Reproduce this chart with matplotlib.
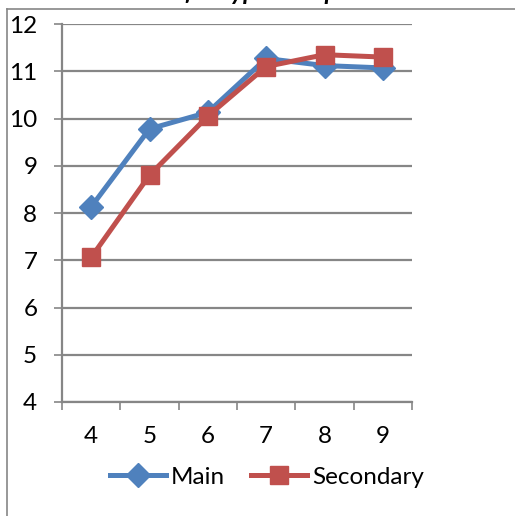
import matplotlib
matplotlib.use('Agg')
import matplotlib.pyplot as plt
from matplotlib.lines import Line2D

grades = ["4", "5", "6", "7", "8", "9"]
main_vals = [8.13, 9.78, 10.13, 11.27, 11.12, 11.07]
secondary_vals = [7.06, 8.80, 10.05, 11.10, 11.35, 11.30]

blue = "#4F81BD"
red = "#C0504D"
grid_col = "#868686"

plt.rcParams['font.family'] = ['Lato', 'DejaVu Sans']

fig = plt.figure(figsize=(5.15, 5.16), dpi=100)

# chart frame, cut off at the top and right
fig.add_artist(Line2D([6.5 / 515, 6.5 / 515], [0, 1 - 8.5 / 516], color=grid_col, lw=1.2))
fig.add_artist(Line2D([6.5 / 515, 1], [1 - 8.5 / 516, 1 - 8.5 / 516], color=grid_col, lw=1.2))
fig.text(0.49, 1 + 0.5 / 516, "Growth of a Typical Sophomore", ha='center', va='baseline',
         fontsize=18, fontweight='bold', fontstyle='italic', color='black')

ax = fig.add_axes([62 / 515, 114 / 516, 350 / 515, 378 / 516])
x = list(range(len(grades)))
ax.plot(x, main_vals, color=blue, lw=3.6, marker='D', ms=12.5, label="Main")
ax.plot(x, secondary_vals, color=red, lw=3.6, marker='s', ms=13.5, label="Secondary")

ax.set_xlim(-0.5, len(grades) - 0.5)
ax.set_ylim(4, 12)
ax.set_yticks(range(4, 13))
ax.set_xticks(x)
ax.set_xticklabels(grades)
ax.set_xticks([i - 0.5 for i in range(len(grades) + 1)], minor=True)

ax.yaxis.grid(True, color=grid_col, lw=1.6)
ax.set_axisbelow(True)
for side in ['top', 'right']:
    ax.spines[side].set_visible(False)
ax.spines['left'].set_color(grid_col)
ax.spines['left'].set_linewidth(1.6)
ax.spines['bottom'].set_color(grid_col)
ax.spines['bottom'].set_linewidth(1.6)

ax.tick_params(axis='y', length=5.8, width=1.2, color=grid_col, pad=12, labelsize=17.5)
ax.tick_params(axis='x', which='major', length=0, pad=17, labelsize=17.5)
ax.tick_params(axis='x', which='minor', length=5.8, width=1.2, color=grid_col)

fig.legend(loc='center', bbox_to_anchor=(267 / 515, 1 - 477 / 516), ncol=2, frameon=False,
           fontsize=17.5, handlelength=2.3, handletextpad=0.2, columnspacing=1.1)

plt.savefig("out.png", dpi=100)
